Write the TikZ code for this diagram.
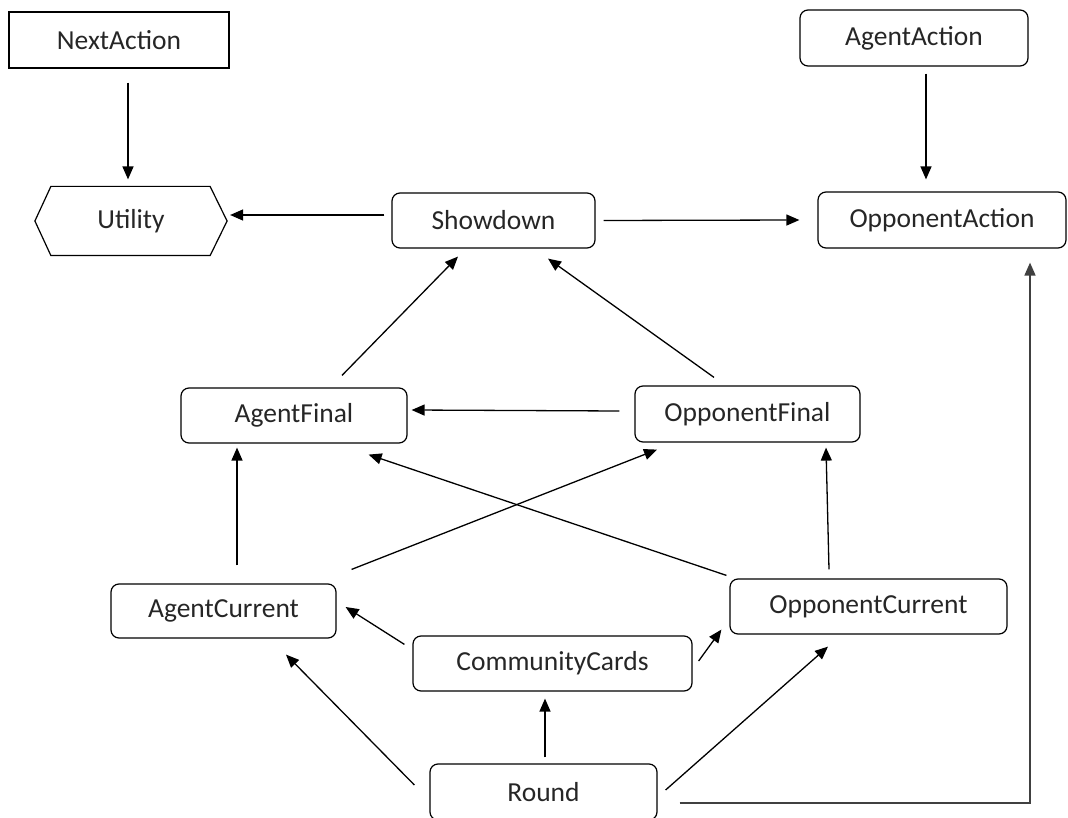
\documentclass[tikz,border=0pt]{standalone}
\usepackage{fontspec}
\setmainfont{Carlito}
\usetikzlibrary{arrows.meta}
\begin{document}
\begin{tikzpicture}[x=1pt,y=-1pt,
  box/.style={draw, line width=1.2pt, rounded corners=8pt, inner sep=0pt,
    font=\fontsize{27.5}{32}\selectfont, text=black!85},
  sharpbox/.style={box, rounded corners=0pt},
  arr/.style={line width=1.3pt, -{Triangle[length=13pt,width=11pt]}}]
\useasboundingbox (0,0) rectangle (1068,818);

% nodes
\node[sharpbox, minimum width=220pt, minimum height=56pt] (next) at (119,40) {NextAction};
\node[box, minimum width=228pt, minimum height=56pt] (aact) at (914,38) {AgentAction};
\node[box, draw=none, minimum width=191pt, minimum height=68pt] (util) at (131,221) {Utility};
\draw[line width=1.2pt] (util.west) -- ([xshift=16pt]util.north west) -- ([xshift=-17pt]util.north east)
  -- (util.east) -- ([xshift=-17pt]util.south east) -- ([xshift=16pt]util.south west) -- cycle;
\node[box, minimum width=203pt, minimum height=55pt] (show) at (493.5,220.5) {Showdown};
\node[box, minimum width=248pt, minimum height=56pt] (oact) at (942,220) {OpponentAction};
\node[box, minimum width=226pt, minimum height=55pt] (afin) at (294,415.5) {AgentFinal};
\node[box, minimum width=225pt, minimum height=56pt] (ofin) at (747.5,414) {OpponentFinal};
\node[box, minimum width=225pt, minimum height=54pt] (acur) at (223.5,611) {AgentCurrent};
\node[box, minimum width=277pt, minimum height=55pt] (ocur) at (868.5,606.5) {OpponentCurrent};
\node[box, minimum width=279pt, minimum height=55pt] (comm) at (552.5,663.5) {CommunityCards};
\node[box, minimum width=227pt, minimum height=56pt] (round) at (543.5,792) {Round};

% connectors
\draw[arr] ([xshift=9pt,yshift=-14pt]next.south) -- ([xshift=-3pt,yshift=7pt]util.north);
\draw[arr] ([xshift=12pt,yshift=-7pt]aact.south) -- ([xshift=-16pt,yshift=12pt]oact.north);
\draw[arr] ([xshift=-7pt,yshift=5.5pt]show.west) -- ([xshift=3pt,yshift=6pt]util.east);
\draw[arr] ([xshift=8pt]show.east) -- ([xshift=-18pt]oact.west);
\draw[arr] ([xshift=48pt,yshift=12pt]afin.north) -- ([xshift=-35.5pt,yshift=-8pt]show.south);
\draw[arr] ([xshift=-33.5pt,yshift=8pt]ofin.north) -- ([xshift=54.5pt,yshift=-10pt]show.south);
\draw[arr] ([xshift=-15pt,yshift=3pt]ofin.west) -- ([xshift=4pt,yshift=5.5pt]afin.east);
\draw[arr] ([xshift=13.5pt,yshift=18pt]acur.north) -- ([xshift=-57pt,yshift=-4pt]afin.south);
\draw[arr] ([xshift=15pt,yshift=14pt]acur.north east) -- ([xshift=-90.5pt,yshift=-7pt]ofin.south);
\draw[arr] ([xshift=-3pt,yshift=3pt]ocur.north west) -- ([xshift=-39pt,yshift=-11pt]afin.south east);
\draw[arr] ([xshift=-39.5pt,yshift=9pt]ocur.north) -- ([xshift=78.5pt,yshift=-5pt]ofin.south);
\draw[arr] ([xshift=-8pt,yshift=-9pt]comm.north west) -- ([xshift=9pt,yshift=4pt]acur.east);
\draw[arr] ([xshift=6pt,yshift=2.5pt]comm.east) -- ([xshift=-8pt,yshift=5pt]ocur.south west);
\draw[arr] ([xshift=-15pt,yshift=7pt]round.west) -- ([xshift=62.5pt,yshift=-16pt]acur.south);
\draw[arr] ([xshift=1.5pt,yshift=6pt]round.north) -- ([xshift=-7.5pt,yshift=-7pt]comm.south);
\draw[arr] ([xshift=8pt,yshift=2pt]round.east) -- ([xshift=-40.5pt,yshift=-12pt]ocur.south);
\draw[arr, line width=1.6pt, draw=black!75] ([xshift=22pt,yshift=-11pt]round.east) -| ([xshift=88pt,yshift=-14pt]oact.south);
\end{tikzpicture}
\end{document}
